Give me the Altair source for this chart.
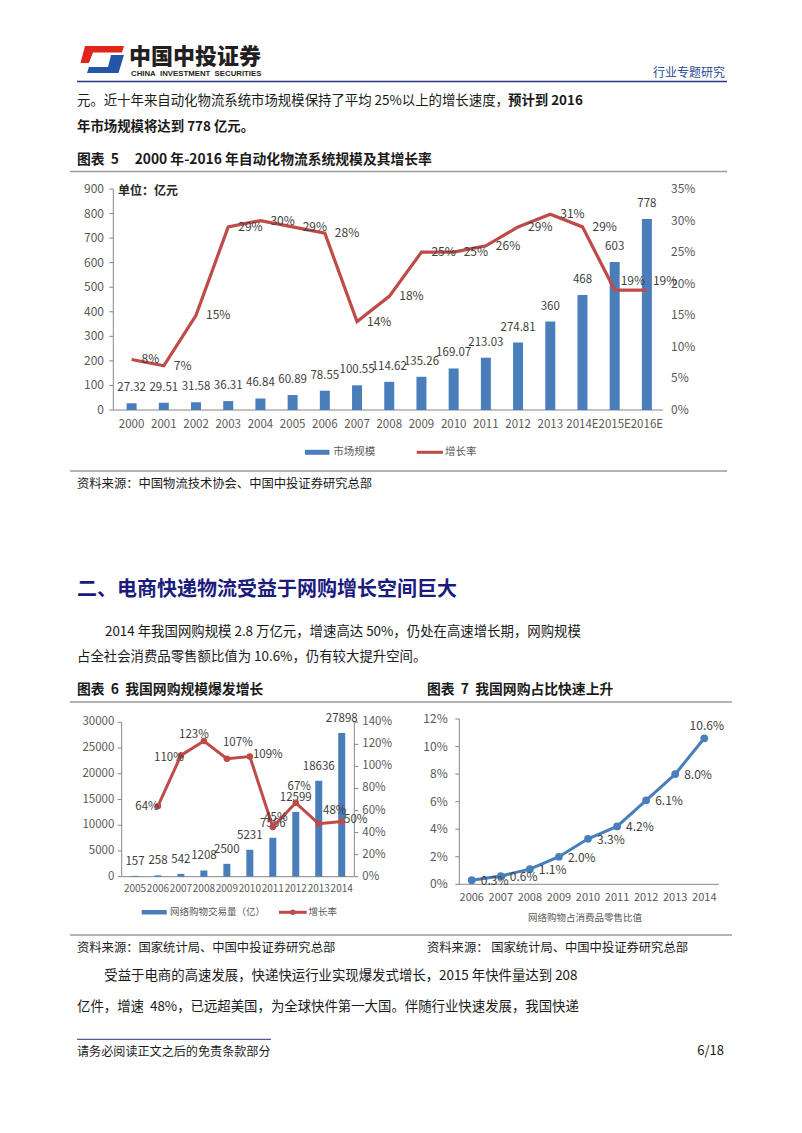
import altair as alt
import pandas as pd

FONT = "Noto Sans CJK SC"
OFF = 8.0  # page margin

# ---------------- data: 图表5 ----------------
years5 = ["2000", "2001", "2002", "2003", "2004", "2005", "2006", "2007", "2008",
          "2009", "2010", "2011", "2012", "2013", "2014E", "2015E", "2016E"]
market5 = [27.32, 29.51, 31.58, 36.31, 46.84, 60.89, 78.55, 100.55, 114.62,
           135.26, 169.07, 213.03, 274.81, 360, 468, 603, 778]
market5_text = ["27.32", "29.51", "31.58", "36.31", "46.84", "60.89", "78.55", "100.55", "114.62",
                "135.26", "169.07", "213.03", "274.81", "360", "468", "603", "778"]
growth5 = [8, 7, 15, 29, 30, 29, 28, 14, 18, 25, 25, 26, 29, 31, 29, 19, 19]
ticks5_left = [0, 100, 200, 300, 400, 500, 600, 700, 800, 900]
ticks5_right = [0, 5, 10, 15, 20, 25, 30, 35]

# ---------------- data: 图表6 ----------------
years6 = ["2005", "2006", "2007", "2008", "2009", "2010", "2011", "2012", "2013", "2014"]
volume6 = [157, 258, 542, 1208, 2500, 5231, 7566, 12599, 18636, 27898]
growth6_years = ["2006", "2007", "2008", "2009", "2010", "2011", "2012", "2013", "2014"]
growth6 = [64, 110, 123, 107, 109, 45, 67, 48, 50]
ticks6_left = [0, 5000, 10000, 15000, 20000, 25000, 30000]
ticks6_right = [0, 20, 40, 60, 80, 100, 120, 140]

# ---------------- data: 图表7 ----------------
years7 = ["2006", "2007", "2008", "2009", "2010", "2011", "2012", "2013", "2014"]
share7 = [0.3, 0.6, 1.1, 2.0, 3.3, 4.2, 6.1, 8.0, 10.6]
ticks7 = [0, 2, 4, 6, 8, 10, 12]

# ---------------- styles ----------------
BLUE = "#4a7ebb"
RED = "#be4b48"
AX_TXT = "#595959"
AX_LINE = "#868686"
LAB = "#404040"
BODY = "#1a1a1a"
NAVY = "#1b1b7e"
RULE_GRAY = "#9a9a9a"
NB = "\u00a0"


def P(v):
    return v - OFF


def band(domain, a, b):
    return alt.Scale(domain=domain, range=[P(a), P(b)], paddingInner=0, paddingOuter=0)


def lin(domain, bottom, top):
    return alt.Scale(domain=domain, range=[P(bottom), P(top)], nice=False, zero=True)


def txt(s, x, y, size=13.4, weight="normal", color=BODY, align="left", font=FONT):
    return alt.Chart().mark_text(text=s, fontSize=size, fontWeight=weight, color=color,
                                 align=align, baseline="middle", font=font).encode(
        x=alt.value(P(x)), y=alt.value(P(y)))


def hline(x1, x2, y, color, w=1.0):
    return alt.Chart().mark_rule(color=color, strokeWidth=w).encode(
        x=alt.value(P(x1)), x2=alt.value(P(x2)), y=alt.value(P(y)))


def vline(x, y1, y2, color, w=1.0):
    return alt.Chart().mark_rule(color=color, strokeWidth=w).encode(
        x=alt.value(P(x)), y=alt.value(P(y1)), y2=alt.value(P(y2)))


def rect(x1, x2, y1, y2, color):
    return alt.Chart().mark_rect(color=color).encode(
        x=alt.value(P(x1)), x2=alt.value(P(x2)), y=alt.value(P(y1)), y2=alt.value(P(y2)))


def dot(x, y, color, size):
    return alt.Chart().mark_circle(color=color, size=size, opacity=1).encode(
        x=alt.value(P(x)), y=alt.value(P(y)))


def yaxis_labels(ticks, texts, scale, x, align, size=12):
    d = pd.DataFrame({"t": ticks, "s": texts})
    return alt.Chart(d).mark_text(align=align, baseline="middle", fontSize=size,
                                  color=AX_TXT, font=FONT).encode(
        x=alt.value(P(x)), y=alt.Y("t:Q", scale=scale, axis=None), text="s:N")


def yaxis_ticks(ticks, scale, x1, x2):
    d = pd.DataFrame({"t": ticks})
    return alt.Chart(d).mark_rule(color=AX_LINE, strokeWidth=1).encode(
        x=alt.value(P(x1)), x2=alt.value(P(x2)), y=alt.Y("t:Q", scale=scale, axis=None))


layers = []

# ================= header =================
RED_PATH = ("M-0.773,-0.614 L1,-0.614 L0.909,-0.318 L-0.409,-0.318 "
            "L-0.591,0.159 L-0.977,0.159 Z")
BLUE_PATH = ("M0.409,-0.205 L1,-0.205 L0.75,0.614 L-0.682,0.614 "
             "L-0.591,0.341 L0.273,0.341 Z")
layers.append(alt.Chart().mark_point(shape=RED_PATH, filled=True, size=1936, color="#e0251b",
                                     opacity=1, strokeWidth=0).encode(
    x=alt.value(P(102)), y=alt.value(P(59.5))))
layers.append(alt.Chart().mark_point(shape=BLUE_PATH, filled=True, size=1936, color="#2356a6",
                                     opacity=1, strokeWidth=0).encode(
    x=alt.value(P(102)), y=alt.value(P(59.5))))
layers.append(txt("中国中投证券", 129, 56.5, 22, 900, "#231f20"))
layers.append(txt("CHINA" + NB + NB + "INVESTMENT" + NB + NB + "SECURITIES", 131, 73.5, 7.8, "bold",
                  "#231f20", font="Liberation Sans"))
layers.append(txt("行业专题研究", 725, 73, 12, "normal", "#2a4a9a", align="right"))
layers.append(hline(77, 727, 81.5, "#2b3580", 1.5))

# ================= text above chart 5 =================
layers.append(txt("元。近十年来自动化物流系统市场规模保持了平均 25%以上的增长速度，", 77, 101))
layers.append(txt("预计到 2016", 508, 101, 13.4, "bold"))
layers.append(txt("年市场规模将达到 778 亿元。", 77, 127, 13.4, "bold"))
layers.append(txt("图表" + NB + NB + "5" + NB * 5 + "2000 年-2016 年自动化物流系统规模及其增长率",
                  77, 160, 13.8, "bold"))
layers.append(hline(70, 727, 171.5, RULE_GRAY, 1.5))

# ================= chart 5 =================
df5 = pd.DataFrame({"year": years5, "market": market5, "mtext": market5_text, "growth": growth5})
df5["gtext"] = [f"{g}%" for g in growth5]
sx5 = band(years5, 115.5, 663)
sL5 = lin([0, 900], 410, 189)
sR5 = lin([0, 35], 410, 189)
x5 = alt.X("year:N", scale=sx5, axis=None)
ym5 = alt.Y("market:Q", scale=sL5, axis=None)
yg5 = alt.Y("growth:Q", scale=sR5, axis=None)
b5 = alt.Chart(df5)

layers.append(yaxis_ticks(ticks5_left, sL5, 109.3, 113.3))
layers.append(yaxis_labels(ticks5_left, [str(t) for t in ticks5_left], sL5, 104, "right"))
layers.append(yaxis_labels(ticks5_right, [f"{t}%" for t in ticks5_right], sR5, 671, "left"))
layers.append(vline(113.3, 189, 410, AX_LINE))
layers.append(hline(113.3, 663, 410, AX_LINE))
layers.append(b5.mark_bar(size=10, color=BLUE).encode(x=x5, y=ym5))
layers.append(b5.mark_text(baseline="middle", dy=-15, fontSize=11.5, color=LAB, font=FONT).encode(
    x=x5, y=ym5, text="mtext:N"))
layers.append(b5.mark_line(color=RED, strokeWidth=3.2).encode(x=x5, y=yg5))
layers.append(b5.transform_filter("datum.year != '2015E' && datum.year != '2016E'").mark_text(
    align="left", baseline="middle", dx=10, fontSize=12, color=LAB, font=FONT).encode(
    x=x5, y=yg5, text="gtext:N"))
layers.append(b5.transform_filter("datum.year == '2015E' || datum.year == '2016E'").mark_text(
    align="left", baseline="middle", dx=6, dy=-9, fontSize=12, color=LAB, font=FONT).encode(
    x=x5, y=yg5, text="gtext:N"))
layers.append(b5.mark_text(baseline="middle", fontSize=11.5, color=AX_TXT, font=FONT).encode(
    x=x5, y=alt.value(P(425)), text="year:N"))
layers.append(txt("单位：亿元", 118, 191, 12, "bold", "#262626"))
# legend 5
layers.append(rect(305, 329.5, 449.8, 454.8, BLUE))
layers.append(txt("市场规模", 333.3, 452.3, 10.5, "normal", AX_TXT))
layers.append(hline(416.7, 443, 452.3, RED, 3))
layers.append(txt("增长率", 445, 452.3, 10.5, "normal", AX_TXT))

layers.append(hline(70, 727, 471, RULE_GRAY, 1.5))
layers.append(txt("资料来源：中国物流技术协会、中国中投证券研究总部", 77, 484, 12.3))

# ================= section =================
layers.append(txt("二、电商快递物流受益于网购增长空间巨大", 77, 590, 20, "bold", NAVY))
layers.append(txt("2014 年我国网购规模 2.8 万亿元，增速高达 50%，仍处在高速增长期，网购规模", 105, 632.3))
layers.append(txt("占全社会消费品零售额比值为 10.6%，仍有较大提升空间。", 77, 656.7))
layers.append(txt("图表" + NB + NB + "6" + NB + NB + "我国网购规模爆发增长", 77, 689.5, 13.8, "bold"))
layers.append(txt("图表" + NB + NB + "7" + NB + NB + "我国网购占比快速上升", 427, 690, 13.8, "bold"))
layers.append(hline(70, 732, 702, RULE_GRAY, 1.5))

# ================= chart 6 =================
df6 = pd.DataFrame({"year": years6, "vol": volume6})
dg6 = pd.DataFrame({"year": growth6_years, "g": growth6})
dg6["gtext"] = [f"{g}%" for g in growth6]
sx6 = band(years6, 123.5, 353.2)
sL6 = lin([0, 30000], 876.7, 722.3)
sR6 = lin([0, 140], 876.7, 722.3)
x6 = alt.X("year:N", scale=sx6, axis=None)
yv6 = alt.Y("vol:Q", scale=sL6, axis=None)
yg6 = alt.Y("g:Q", scale=sR6, axis=None)

layers.append(yaxis_ticks(ticks6_left, sL6, 117.7, 121.7))
layers.append(yaxis_labels(ticks6_left, [str(t) for t in ticks6_left], sL6, 114.3, "right", 11.5))
layers.append(yaxis_ticks(ticks6_right, sR6, 354.3, 358.3))
layers.append(yaxis_labels(ticks6_right, [f"{t}%" for t in ticks6_right], sR6, 362.3, "left", 11.5))
layers.append(vline(121.7, 722.3, 876.7, AX_LINE))
layers.append(vline(354.3, 722.3, 876.7, AX_LINE))
layers.append(hline(121.7, 354.3, 876.7, AX_LINE))
layers.append(alt.Chart(df6).mark_bar(size=7, color=BLUE).encode(x=x6, y=yv6))
layers.append(alt.Chart(df6).mark_text(baseline="middle", dy=-14, fontSize=11.5, color=LAB,
                                       font=FONT).encode(x=x6, y=yv6, text="vol:N"))
layers.append(alt.Chart(dg6).mark_line(color=RED, strokeWidth=3).encode(x=x6, y=yg6))
layers.append(alt.Chart(dg6).mark_circle(color=RED, size=42, opacity=1).encode(x=x6, y=yg6))
label_offsets6 = {"2006": (-11, 1), "2007": (-12, 3), "2008": (-10, -6), "2009": (11, -16),
                  "2010": (18, -1.5), "2011": (3, -9), "2012": (3.5, -16), "2013": (16, -13),
                  "2014": (14, -2)}
for yr, (ddx, ddy) in label_offsets6.items():
    layers.append(alt.Chart(dg6).transform_filter(f"datum.year == '{yr}'").mark_text(
        align="center", baseline="middle", dx=ddx, dy=ddy, fontSize=11.5, color=LAB,
        font=FONT).encode(x=x6, y=yg6, text="gtext:N"))
layers.append(alt.Chart(df6).mark_text(baseline="middle", fontSize=10, color=AX_TXT,
                                       font=FONT).encode(x=x6, y=alt.value(P(889.3)), text="year:N"))
# legend 6
layers.append(rect(141.7, 166.7, 910, 914.5, BLUE))
layers.append(txt("网络购物交易量（亿）", 170, 912.3, 9.5, "normal", AX_TXT))
layers.append(hline(279, 306.7, 912.3, RED, 3))
layers.append(dot(292.8, 912.3, RED, 30))
layers.append(txt("增长率", 308.5, 912.3, 9.5, "normal", AX_TXT))

# ================= chart 7 =================
df7 = pd.DataFrame({"year": years7, "share": share7})
df7["stext"] = [f"{v:.1f}%" for v in share7]
sx7 = band(years7, 457.2, 718.8)
sy7 = lin([0, 12], 884.3, 719)
x7 = alt.X("year:N", scale=sx7, axis=None)
y7 = alt.Y("share:Q", scale=sy7, axis=None)

layers.append(yaxis_ticks(ticks7, sy7, 455.3, 459.3))
layers.append(yaxis_labels(ticks7, [f"{t}%" for t in ticks7], sy7, 447.7, "right", 12))
layers.append(vline(459.3, 719, 884.3, AX_LINE))
layers.append(hline(459.3, 718.8, 884.3, AX_LINE))
layers.append(alt.Chart(df7).mark_line(color=BLUE, strokeWidth=3).encode(x=x7, y=y7))
layers.append(alt.Chart(df7).mark_circle(color=BLUE, size=60, opacity=1).encode(x=x7, y=y7))
layers.append(alt.Chart(df7).transform_filter("datum.year != '2014'").mark_text(
    align="left", baseline="middle", dx=9, dy=1, fontSize=12, color=LAB, font=FONT).encode(
    x=x7, y=y7, text="stext:N"))
layers.append(alt.Chart(df7).transform_filter("datum.year == '2014'").mark_text(
    align="center", baseline="middle", dx=2.5, dy=-12.6, fontSize=12, color=LAB, font=FONT).encode(
    x=x7, y=y7, text="stext:N"))
layers.append(alt.Chart(df7).mark_text(baseline="middle", fontSize=11, color=AX_TXT,
                                       font=FONT).encode(x=x7, y=alt.value(P(898.3)), text="year:N"))
layers.append(txt("网络购物占消费品零售比值", 585, 918.3, 9.5, "normal", AX_TXT, align="center"))

layers.append(hline(70, 732, 935, RULE_GRAY, 1.5))
layers.append(txt("资料来源：国家统计局、中国中投证券研究总部", 77, 947.7, 12.3))
layers.append(txt("资料来源：" + NB + "国家统计局、中国中投证券研究总部", 427, 947.7, 12.3))

# ================= closing text / footer =================
layers.append(txt("受益于电商的高速发展，快递快运行业实现爆发式增长，2015 年快件量达到 208", 104.3, 976))
layers.append(txt("亿件，增速" + NB + NB + "48%，已远超美国，为全球快件第一大国。伴随行业快速发展，我国快递",
                  77, 1006.7))
layers.append(hline(77, 271, 1039.3, "#2b3580", 1))
layers.append(txt("请务必阅读正文之后的免责条款部分", 77, 1051.7, 12.1))
layers.append(txt("6/18", 724, 1051, 13, align="right"))

chart = alt.layer(*layers, data=pd.DataFrame({"d": [0]})).resolve_scale(
    x="independent", y="independent"
).properties(
    width=786, height=1110, padding=0,
    autosize=alt.AutoSizeParams(type="none"), background="white"
).configure_view(stroke="transparent")

chart.save("out.html", embed_options={"renderer": "svg", "actions": False})
